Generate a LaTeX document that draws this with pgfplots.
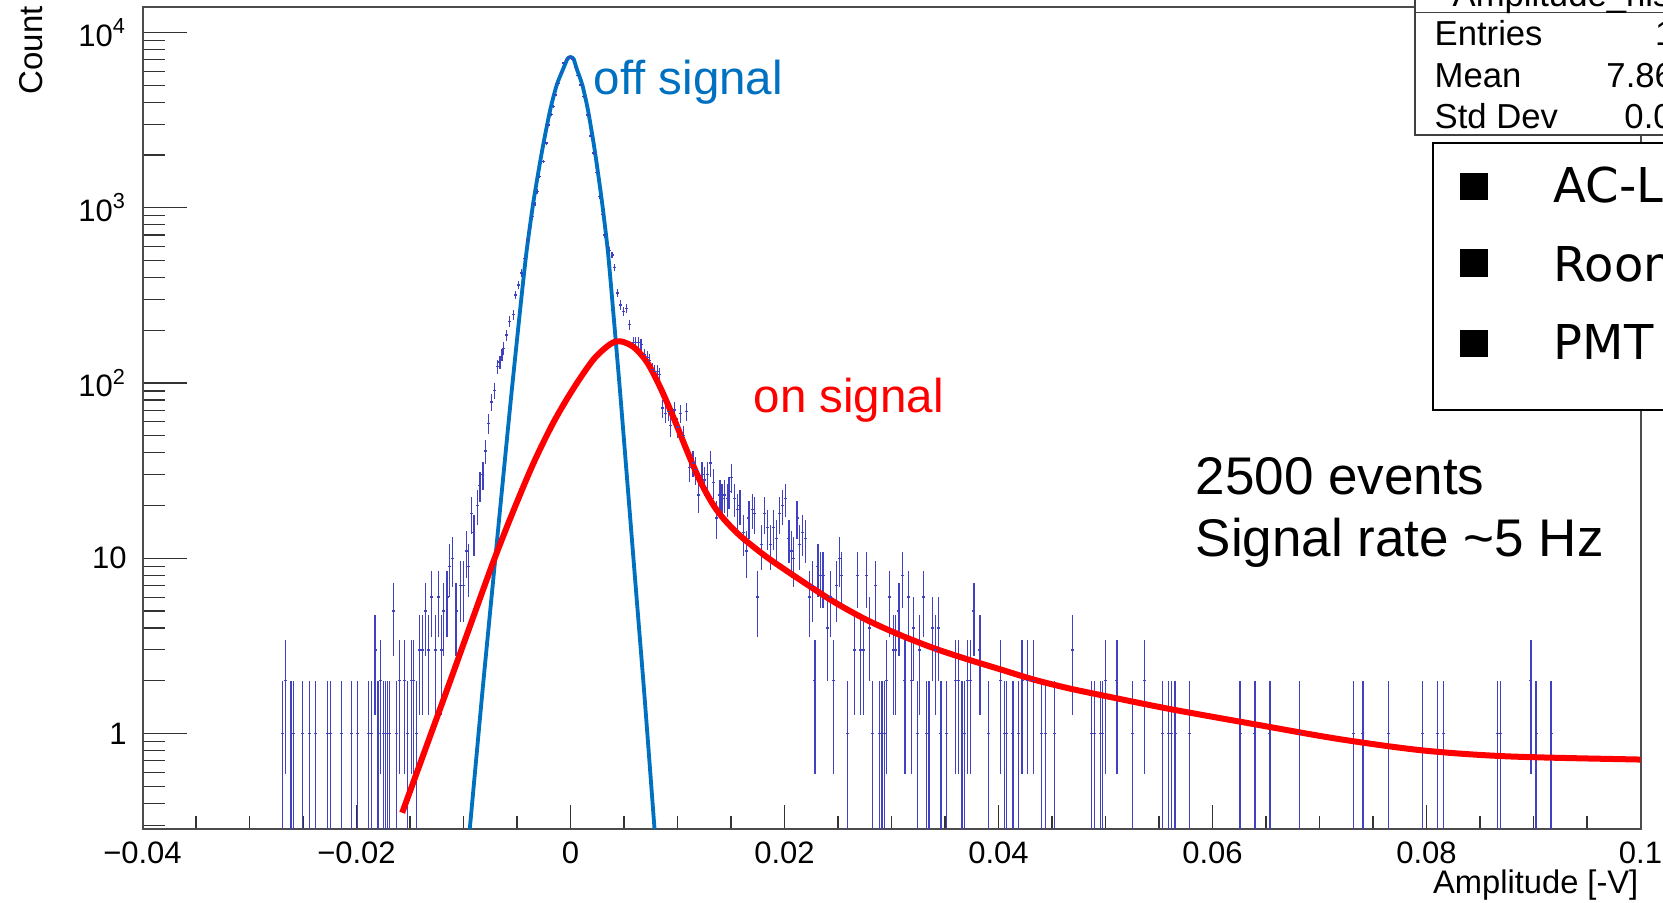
\documentclass[border=0pt]{standalone}
\usepackage{fontspec}
\setmainfont{Liberation Sans}
\newfontfamily\legfont{DejaVu Sans}
\usepackage{pgfplots}
\usepackage{pgfplotstable}
\pgfplotsset{compat=1.18}
\definecolor{histblue}{RGB}{65,65,195}
\definecolor{offblue}{RGB}{0,112,192}

\pgfplotstableread{
x y ep em
-0.02695 1 1 0.999
-0.02664 2 1.414 1.414
-0.02611 1 1 0.999
-0.02586 1 1 0.999
-0.02502 1 1 0.999
-0.02439 1 1 0.999
-0.02383 1 1 0.999
-0.02274 1 1 0.999
-0.02243 1 1 0.999
-0.02140 1 1 0.999
-0.02050 1 1 0.999
-0.01994 1 1 0.999
-0.01885 1 1 0.999
-0.01863 1 1 0.999
-0.01826 3 1.732 1.732
-0.01798 1 1 0.999
-0.01776 2 1.414 1.414
-0.01751 1 1 0.999
-0.01729 1 1 0.999
-0.01713 1 1 0.999
-0.01689 1 1 0.999
-0.01651 5 2.236 2.236
-0.01629 1 1 0.999
-0.01598 2 1.414 1.414
-0.01548 2 1.414 1.414
-0.01520 1 1 0.999
-0.01489 2 1.414 1.414
-0.01464 2 1.414 1.414
-0.01439 1 1 0.999
-0.01408 3 1.732 1.732
-0.01383 3 1.732 1.732
-0.01355 5 2.236 2.236
-0.01324 3 1.732 1.732
-0.01299 6 2.449 2.449
-0.01262 3 1.732 1.732
-0.01231 6 2.449 2.449
-0.01206 3 1.732 1.732
-0.01184 5 2.236 2.236
-0.01153 6 2.449 2.449
-0.01128 9 3 3
-0.01106 10 3.162 3.162
-0.01069 5 2.236 2.236
-0.01028 7 2.646 2.646
-0.00997 7 2.646 2.646
-0.00972 11 3.317 3.317
-0.00950 9 3 3
-0.00928 18 4.243 4.243
-0.00903 14 3.742 3.742
-0.00872 20 4.472 4.472
-0.00847 26 5.099 5.099
-0.00819 30 5.477 5.477
-0.00791 41 6.403 6.403
-0.00763 59 7.681 7.681
-0.00735 78 8.832 8.832
-0.00710 91 9.539 9.539
-0.00679 124 11.14 11.14
-0.00660 132 11.49 11.49
-0.00640 145 12.04 12.04
-0.00623 158 12.57 12.57
-0.00598 188 13.71 13.71
-0.00567 225 15 15
-0.00536 245 15.65 15.65
-0.00514 318 17.83 17.83
-0.00486 363 19.05 19.05
-0.00461 424 20.59 20.59
-0.00430 515 22.69 22.69
-0.00405 656 25.61 25.61
-0.00380 760 27.57 27.57
-0.00355 890 29.83 29.83
-0.00333 1050 32.40 32.40
-0.00312 1240 35.21 35.21
-0.00290 1510 38.86 38.86
-0.00255 1840 42.90 42.90
-0.00227 2340 48.37 48.37
-0.00203 2970 54.50 54.50
-0.00180 3400 58.31 58.31
-0.00162 3780 61.48 61.48
-0.00137 4400 66.33 66.33
-0.00112 5100 71.41 71.41
-0.00087 5900 76.81 76.81
-0.00062 6700 81.85 81.85
-0.00037 7000 83.67 83.67
-0.00006 7240 85.09 85.09
0.00019 7000 83.67 83.67
0.00044 6300 79.37 79.37
0.00068 5700 75.50 75.50
0.00094 5020 70.85 70.85
0.00125 4310 65.65 65.65
0.00156 3390 58.22 58.22
0.00187 2570 50.70 50.70
0.00218 2050 45.28 45.28
0.00243 1590 39.87 39.87
0.00271 1160 34.06 34.06
0.00296 912 30.20 30.20
0.00321 700 26.46 26.46
0.00343 603 24.56 24.56
0.00366 570 23.87 23.87
0.00389 538 23.19 23.19
0.00414 458 21.40 21.40
0.00442 326 18.06 18.06
0.00467 279 16.70 16.70
0.00492 257 16.03 16.03
0.00523 267 16.34 16.34
0.00554 215 14.66 14.66
0.00586 170 13.04 13.04
0.00610 170 13.04 13.04
0.00635 170 13.04 13.04
0.00660 166 12.88 12.88
0.00692 145 12.04 12.04
0.00717 140 11.83 11.83
0.00741 135 11.62 11.62
0.00763 119 10.91 10.91
0.00785 116 10.77 10.77
0.00810 116 10.77 10.77
0.00835 112 10.58 10.58
0.00857 72 8.485 8.485
0.00888 67 8.185 8.185
0.00913 69 8.307 8.307
0.00935 57 7.550 7.550
0.00972 70 8.367 8.367
0.00997 56 7.483 7.483
0.01028 67 8.185 8.185
0.01053 50 7.071 7.071
0.01084 69 8.307 8.307
0.01115 33 5.745 5.745
0.01146 35 5.916 5.916
0.01168 32 5.657 5.657
0.01199 23 4.796 4.796
0.01230 30 5.477 5.477
0.01252 28 5.292 5.292
0.01277 30 5.477 5.477
0.01308 35 5.916 5.916
0.01333 27 5.196 5.196
0.01364 17 4.123 4.123
0.01396 23 4.796 4.796
0.01417 22 4.690 4.690
0.01439 23 4.796 4.796
0.01464 22 4.690 4.690
0.01482 24 4.899 4.899
0.01502 29 5.385 5.385
0.01533 22 4.690 4.690
0.01558 19 4.359 4.359
0.01583 20 4.472 4.472
0.01620 14 3.742 3.742
0.01645 11 3.317 3.317
0.01667 17 4.123 4.123
0.01698 19 4.359 4.359
0.01723 18 4.243 4.243
0.01751 6 2.449 2.449
0.01782 12 3.464 3.464
0.01813 18 4.243 4.243
0.01838 15 3.873 3.873
0.01869 12 3.464 3.464
0.01894 15 3.873 3.873
0.01925 13 3.606 3.606
0.01956 18 4.243 4.243
0.01978 20 4.472 4.472
0.02009 22 4.690 4.690
0.02041 13 3.606 3.606
0.02062 11 3.317 3.317
0.02087 10 3.162 3.162
0.02118 17 4.123 4.123
0.02143 12 3.464 3.464
0.02168 14 3.742 3.742
0.02196 13 3.606 3.606
0.02234 6 2.449 2.449
0.02259 7 2.646 2.646
0.02284 2 1.414 1.414
0.02312 9 3 3
0.02336 8 2.828 2.828
0.02361 8 2.828 2.828
0.02399 4 2 2
0.02430 6 2.449 2.449
0.02455 2 1.414 1.414
0.02486 7 2.646 2.646
0.02514 10 3.162 3.162
0.02536 8 2.828 2.828
0.02592 1 1 0.999
0.02654 3 1.732 1.732
0.02679 8 2.828 2.828
0.02710 3 1.732 1.732
0.02735 3 1.732 1.732
0.02763 8 2.828 2.828
0.02797 4 2 2
0.02819 1 1 0.999
0.02850 7 2.646 2.646
0.02885 1 1 0.999
0.02910 1 1 0.999
0.02935 1 1 0.999
0.02955 2 1.414 1.414
0.02984 6 2.449 2.449
0.03016 3 1.732 1.732
0.03037 3 1.732 1.732
0.03069 5 2.236 2.236
0.03100 8 2.828 2.828
0.03125 2 1.414 1.414
0.03156 6 2.449 2.449
0.03184 2 1.414 1.414
0.03209 4 2 2
0.03240 1 1 0.999
0.03265 3 1.732 1.732
0.03296 6 2.449 2.449
0.03330 1 1 0.999
0.03350 1 1 0.999
0.03380 4 2 2
0.03411 3 1.732 1.732
0.03442 4 2 2
0.03462 1 1 0.999
0.03515 1 1 0.999
0.03598 2 1.414 1.414
0.03629 2 1.414 1.414
0.03660 1 1 0.999
0.03682 1 1 0.999
0.03707 2 1.414 1.414
0.03738 2 1.414 1.414
0.03770 5 2.236 2.236
0.03826 3 1.732 1.732
0.03906 1 1 0.999
0.04019 2 1.414 1.414
0.04055 1 1 0.999
0.04075 1 1 0.999
0.04135 1 1 0.999
0.04190 1 1 0.999
0.04220 2 1.414 1.414
0.04270 2 1.414 1.414
0.04330 2 1.414 1.414
0.04405 1 1 0.999
0.04437 1 1 0.999
0.04521 1 1 0.999
0.04690 3 1.732 1.732
0.04871 1 1 0.999
0.04894 1 1 0.999
0.04950 1 1 0.999
0.04974 1 1 0.999
0.05000 2 1.414 1.414
0.05107 2 1.414 1.414
0.05254 1 1 0.999
0.05364 2 1.414 1.414
0.05534 1 1 0.999
0.05590 1 1 0.999
0.05618 1 1 0.999
0.05650 1 1 0.999
0.05786 1 1 0.999
0.06257 1 1 0.999
0.06397 1 1 0.999
0.06537 1 1 0.999
0.06813 1 1 0.999
0.07321 1 1 0.999
0.07406 1 1 0.999
0.07648 1 1 0.999
0.07960 1 1 0.999
0.08105 1 1 0.999
0.08162 1 1 0.999
0.08661 1 1 0.999
0.08694 1 1 0.999
0.08976 2 1.414 1.414
0.09024 1 1 0.999
0.09164 1 1 0.999
}\histdata

\pgfplotstableread{
x y
-0.00949 0.26
-0.00941 0.287
-0.00824 1.71
-0.00734 6.35
-0.00643 23.7
-0.00551 88.1
-0.00461 298
-0.00409 574
-0.00344 1107
-0.00264 2138
-0.00190 3614
-0.00129 5012
-0.00073 6109
-0.00030 7050
-0.00015 7200
0.00000 7244
0.00015 7200
0.00030 7050
0.00062 6109
0.00111 5012
0.00163 3614
0.00226 2138
0.00292 1107
0.00348 574
0.00390 298
0.00464 88.1
0.00539 23.7
0.00614 6.35
0.00689 1.71
0.00785 0.287
0.00791 0.26
}\bluecurve

\pgfplotstableread{
x y
-0.01573 0.353
-0.01371 0.769
-0.01152 1.79
-0.00935 4.17
-0.00717 9.70
-0.00530 18.9
-0.00343 35.2
-0.00156 60.1
0.00031 93.8
0.00218 137
0.00374 167
0.00467 173
0.00592 160
0.00717 131
0.00841 93.8
0.00966 62.8
0.01091 40.7
0.01215 27.3
0.0134 19.9
0.0145 16.3
0.0160 13.2
0.0184 10.1
0.0215 7.5
0.0246 5.65
0.0277 4.44
0.0308 3.65
0.0340 3.06
0.0371 2.65
0.0402 2.32
0.0433 2.03
0.0464 1.82
0.0495 1.66
0.0560 1.38
0.0639 1.13
0.0718 0.93
0.0797 0.80
0.0877 0.74
0.1000 0.71
0.1003 0.71
}\redcurve

\begin{document}
\begin{tikzpicture}[x=0.3pt,y=0.3pt]
\useasboundingbox (0,0) rectangle (1663,903);
\begin{axis}[
  at={(42.75pt,22.35pt)}, anchor=south west,
  scale only axis, width=449.4pt, height=246.36pt,
  xmin=-0.04, xmax=0.1,
  ymode=log, ymin=0.287, ymax=13930,
  axis line style={draw=black!70, line width=0.6pt},
  xtick={-0.04,-0.02,0,0.02,0.04,0.06,0.08,0.1},
  xticklabels={−0.04,−0.02,0,0.02,0.04,0.06,0.08,0.1},
  minor x tick num=3,
  ytick={1,10,100,1000,10000},
  yticklabels={1,10,10\textsuperscript{2},10\textsuperscript{3},10\textsuperscript{4}},
  minor ytick={0.3,0.4,0.5,0.6,0.7,0.8,0.9,2,3,4,5,6,7,8,9,20,30,40,50,60,70,80,90,200,300,400,500,600,700,800,900,2000,3000,4000,5000,6000,7000,8000,9000},
  tick align=inside,
  xtick pos=left, ytick pos=left,
  x tick style={black!80, line width=0.35pt, /pgfplots/major tick length=7.2pt, /pgfplots/minor tick length=3.8pt},
  y tick style={black!80, line width=0.35pt, /pgfplots/major tick length=13.2pt, /pgfplots/minor tick length=6.6pt},
  tick label style={font=\fontsize{9.3}{11}\selectfont},
  xticklabel style={anchor=north, inner sep=0pt, yshift=-3.7pt},
  yticklabel style={anchor=east, inner sep=0pt, xshift=-4.6pt},
]
\addplot[only marks, histblue, mark=-, mark size=0.45pt, mark options={line width=0.4pt},
  error bars/.cd, y dir=both, y explicit, error mark=none,
  error bar style={line width=0.38pt, histblue}]
  table[x=x, y=y, y error plus=ep, y error minus=em] {\histdata};
\addplot[offblue, line width=1.15pt, smooth, tension=0.4] table[x=x,y=y] {\bluecurve};
\addplot[red, line width=1.8pt, smooth, tension=0.5] table[x=x,y=y] {\redcurve};
\end{axis}

% annotations
\node[anchor=base west, inner sep=0pt, text=offblue, font=\fontsize{14.25}{16}\selectfont] at (593,808) {off signal};
\node[anchor=base west, inner sep=0pt, text=red, font=\fontsize{14.25}{16}\selectfont] at (753,490) {on signal};
\node[anchor=base west, inner sep=0pt, font=\fontsize{15.9}{18}\selectfont] at (1195,408) {2500 events};
\node[anchor=base west, inner sep=0pt, font=\fontsize{15.9}{18}\selectfont] at (1195,346) {Signal rate \textasciitilde5 Hz};

% axis titles
\node[rotate=90, anchor=east, inner sep=0pt, font=\fontsize{9.9}{12}\selectfont] at (31,897.5) {Count};
\node[anchor=base east, inner sep=0pt, font=\fontsize{9.8}{12}\selectfont] at (1639,9) {Amplitude [-V]};

% stats box
\draw[black!75, line width=0.4pt, fill=white] (1415,768) rectangle (1800,930);
\draw[black!75, line width=0.4pt] (1415,890.3) -- (1800,890.3);
\node[anchor=base west, inner sep=0pt, font=\fontsize{10.4}{12}\selectfont] at (1452,896) {Amplitude\_hist};
\node[anchor=base west, inner sep=0pt, font=\fontsize{10.4}{12}\selectfont] at (1434,857) {Entries};
\node[anchor=base west, inner sep=0pt, font=\fontsize{10.4}{12}\selectfont] at (1434,815.5) {Mean};
\node[anchor=base west, inner sep=0pt, font=\fontsize{10.4}{12}\selectfont] at (1434,774.5) {Std Dev};
\node[anchor=base west, inner sep=0pt, font=\fontsize{10.4}{12}\selectfont] at (1654.5,857) {141253};
\node[anchor=base west, inner sep=0pt, font=\fontsize{10.4}{12}\selectfont] at (1605.8,815.5) {7.864e-05};
\node[anchor=base west, inner sep=0pt, font=\fontsize{10.4}{12}\selectfont] at (1623.8,774.5) {0.004731};

% legend box
\draw[black, line width=0.6pt, fill=white] (1432.7,493) rectangle (1800,759.7);
\fill[black] (1460,703) rectangle (1488,730.3);
\fill[black] (1460,626.3) rectangle (1488,653.7);
\fill[black] (1460,546.3) rectangle (1488,573);
\node[anchor=base west, inner sep=0pt, font=\legfont\fontsize{14.4}{17}\selectfont] at (1553,700) {AC-LGAD};
\node[anchor=base west, inner sep=0pt, font=\legfont\fontsize{14.4}{17}\selectfont] at (1553,621.3) {Room temperature};
\node[anchor=base west, inner sep=0pt, font=\legfont\fontsize{14.4}{17}\selectfont] at (1553,543) {PMT};
\end{tikzpicture}
\end{document}
